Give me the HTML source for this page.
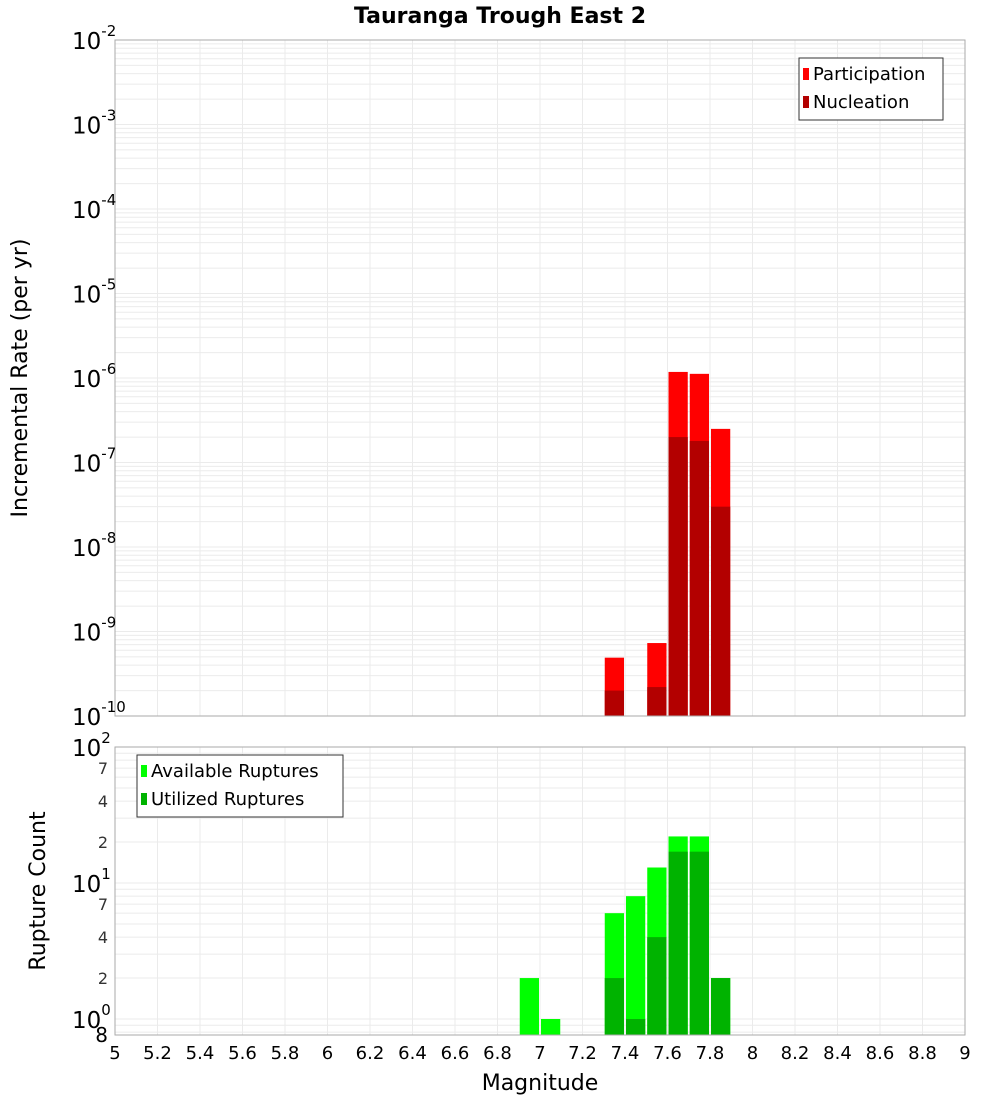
<!DOCTYPE html>
<html><head><meta charset="utf-8"><style>
body{margin:0;background:#fff;width:1000px;height:1100px;overflow:hidden}
svg{font-family:"DejaVu Sans","Liberation Sans",sans-serif}
</style></head><body>
<svg id="c" width="1000" height="1100"></svg>
<script>
const magBins=[6.95,7.05,7.35,7.45,7.55,7.65,7.75,7.85];
const participation=[0,0,4.9e-10,0,7.3e-10,1.18e-6,1.12e-6,2.5e-7];
const nucleation=[0,0,2.0e-10,0,2.2e-10,2.0e-7,1.8e-7,3.0e-8];
const available=[2,1,6,8,13,22,22,2];
const utilized=[0,0,2,1,4,17,17,2];
const xTicks=[5,5.2,5.4,5.6,5.8,6,6.2,6.4,6.6,6.8,7,7.2,7.4,7.6,7.8,8,8.2,8.4,8.6,8.8,9];
const topDecades=[-10,-9,-8,-7,-6,-5,-4,-3,-2];
const botMinorLabels=[2,4,7,20,40,70];

const NS="http://www.w3.org/2000/svg";
const svg=document.getElementById('c');
function el(t,a,p){const e=document.createElementNS(NS,t);for(const k in a)e.setAttribute(k,a[k]);(p||svg).appendChild(e);return e;}
const L=115,R=965;
const X=v=>L+(v-5)*(R-L)/4;
const T0=40,T1=716,B0=747,B1=1035;
const YT=v=>T1-(Math.log10(v)+10)*(T1-T0)/8;
const DEC=136, YB=v=>1019-Math.log10(v)*DEC;

// title
let t=el('text',{x:500,y:23,'text-anchor':'middle','font-size':22,'font-weight':'bold'});t.textContent='Tauranga Trough East 2';


// plot backgrounds & grids
function grids(y0,y1,hLines,name){
  const g=el('g',{});
  
  el('rect',{x:L,y:y0,width:R-L,height:y1-y0,fill:'#fff'},g);
  xTicks.forEach(v=>el('line',{x1:X(v),x2:X(v),y1:y0,y2:y1,stroke:'#ebebeb'},g));
  hLines.forEach(y=>{if(y>=y0&&y<=y1)el('line',{x1:L,x2:R,y1:y,y2:y,stroke:'#ebebeb'},g)});
}
let th=[];topDecades.forEach(d=>{for(let m=1;m<10;m++)th.push(YT(m*Math.pow(10,d)))});
grids(T0,T1,th,'top-grid');
let bh=[];[0.1,1,10].forEach(d=>{for(let m=1;m<10;m++)bh.push(YB(m*d))});bh.push(YB(100));
grids(B0,B1,bh,'bottom-grid');

// bars
const bw=(R-L)/40;
function bar(v,scale,fill,name,base){
  if(!v)return;const y=scale(v);
  const r=el('rect',{x:X(v===0?0:0)+0,y:y,width:bw-2,height:base-y,fill:fill});
  return r;
}
magBins.forEach((m,i)=>{
  [[participation[i],'#ff0000','participation-bar'],[nucleation[i],'#b30000','nucleation-bar']].forEach(([v,f,n])=>{
    if(!v)return;const y=YT(v);
    const r=el('rect',{x:X(m-0.05)+1,y:y,width:bw-2,height:T1-y,fill:f});
    
  });
  [[available[i],'#00ff00','available-bar'],[utilized[i],'#00b300','utilized-bar']].forEach(([v,f,n])=>{
    if(!v)return;const y=YB(v);
    const r=el('rect',{x:X(m-0.05)+1,y:y,width:bw-2,height:B1-y,fill:f});
    
  });
});

// borders
el('rect',{x:L,y:T0,width:R-L,height:T1-T0,fill:'none',stroke:'#aaa'});
el('rect',{x:L,y:B0,width:R-L,height:B1-B0,fill:'none',stroke:'#aaa'});

// top y labels
topDecades.forEach(d=>{
  const y=YT(Math.pow(10,d));
  const tx=el('text',{x:72,y:y+9,'font-size':23});
  
  tx.textContent='10';
  const s=el('tspan',{dy:-13,'font-size':15},tx);s.textContent=String(d);
});
// bottom y labels
[[1,'0'],[10,'1'],[100,'2']].forEach(([v,e])=>{
  const y=YB(v);
  const tx=el('text',{x:72,y:y+9,'font-size':23});
  
  tx.textContent='10';
  const s=el('tspan',{dy:-13,'font-size':15},tx);s.textContent=e;
});
botMinorLabels.forEach(v=>{
  const tx=el('text',{x:108,y:YB(v)+6,'font-size':16,'text-anchor':'end',fill:'#333'});
  
  tx.textContent=String(v<10?v:v/10);
});
t=el('text',{x:108,y:1042,'font-size':20,'text-anchor':'end'});t.textContent='8';
// x labels
xTicks.forEach(v=>{
  const tx=el('text',{x:X(v),y:1059,'font-size':18,'text-anchor':'middle'});
  
  tx.textContent=String(v);
});
t=el('text',{x:540,y:1090,'font-size':22,'text-anchor':'middle'});t.textContent='Magnitude';

t=el('text',{x:0,y:0,'font-size':22,'text-anchor':'middle',transform:'translate(27,378) rotate(-90)'});t.textContent='Incremental Rate (per yr)';

t=el('text',{x:0,y:0,'font-size':22,'text-anchor':'middle',transform:'translate(45,891) rotate(-90)'});t.textContent='Rupture Count';


// legends
function legend(x,y,w,items,name){
  const g=el('g',{});
  el('rect',{x:x,y:y,width:w,height:items.length*28+6,fill:'#fff',stroke:'#333'},g);
  items.forEach(([lab,c],i)=>{
    el('rect',{x:x+4,y:y+10+i*28,width:6,height:12,fill:c},g);
    const tx=el('text',{x:x+14,y:y+22+i*28,'font-size':18},g);tx.textContent=lab;
  });
}
legend(799,58,144,[['Participation','#ff0000'],['Nucleation','#b30000']],'top-legend');
legend(137,755,206,[['Available Ruptures','#00ff00'],['Utilized Ruptures','#00b300']],'bottom-legend');
</script>
</body></html>
